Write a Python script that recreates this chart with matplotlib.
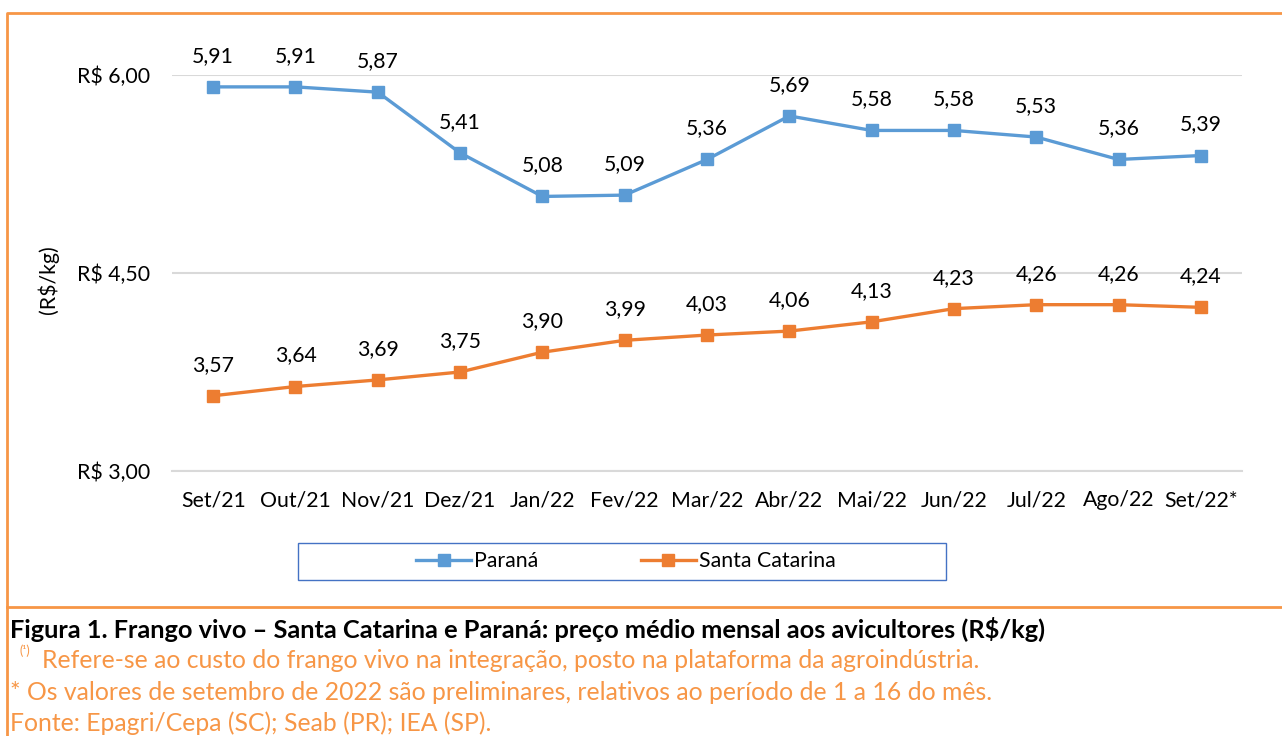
import matplotlib.pyplot as plt
from matplotlib.lines import Line2D
from matplotlib.patches import Rectangle

plt.rcParams['font.family'] = ['Lato', 'DejaVu Sans']

meses = ['Set/21', 'Out/21', 'Nov/21', 'Dez/21', 'Jan/22', 'Fev/22', 'Mar/22',
         'Abr/22', 'Mai/22', 'Jun/22', 'Jul/22', 'Ago/22', 'Set/22*']
parana = [5.91, 5.91, 5.87, 5.41, 5.08, 5.09, 5.36, 5.69, 5.58, 5.58, 5.53, 5.36, 5.39]
santa_catarina = [3.57, 3.64, 3.69, 3.75, 3.90, 3.99, 4.03, 4.06, 4.13, 4.23, 4.26, 4.26, 4.24]
yticks = [3.0, 4.5, 6.0]

AZUL = '#5B9BD5'
LARANJA = '#ED7D31'
BORDA = '#F79646'
FS = 15.3
FS_CAP = 17.8

W, H = 1282, 736
fig = plt.figure(figsize=(W / 100, H / 100), dpi=100)
ax = fig.add_axes([172 / W, 1 - 471 / H, (1242 - 172) / W, (471 - 75) / H])

x = list(range(len(meses)))
ax.plot(x, parana, color=AZUL, lw=2.4, marker='s', ms=8, label='Paraná', clip_on=False)
ax.plot(x, santa_catarina, color=LARANJA, lw=2.4, marker='s', ms=8, label='Santa Catarina',
        clip_on=False)

for serie in (parana, santa_catarina):
    for xi, v in zip(x, serie):
        ax.annotate(f'{v:.2f}'.replace('.', ','), (xi, v), xytext=(0, 31),
                    textcoords='offset pixels', ha='center', va='center', fontsize=FS,
                    color='black', annotation_clip=False)

ax.set_xlim(-0.5, len(meses) - 0.5)
ax.set_ylim(3.0, 6.0)
ax.set_yticks(yticks)
ax.set_yticklabels([f'R$ {v:.2f}'.replace('.', ',') for v in yticks])
ax.set_xticks(x)
ax.set_xticklabels(meses)
ax.tick_params(length=0, labelsize=FS)
ax.tick_params(axis='x', pad=14)
ax.tick_params(axis='y', pad=16)
ax.grid(axis='y', color='#D9D9D9', lw=1.5)
ax.set_axisbelow(True)
for s in ax.spines.values():
    s.set_visible(False)
ax.spines['bottom'].set_visible(True)
ax.spines['bottom'].set_color('#D9D9D9')
ax.spines['bottom'].set_linewidth(1.5)

fig.text(48 / W, 1 - 280 / H, '(R$/kg)', rotation=90, ha='center', va='center', fontsize=FS)

# legenda
fig.add_artist(Rectangle((298 / W, 1 - 580 / H), (946 - 298) / W, 37 / H, fill=False,
                         edgecolor='#4472C4', lw=1, transform=fig.transFigure))
fig.legend(handles=[Line2D([], [], color=AZUL, lw=2.4, marker='s', ms=8),
                    Line2D([], [], color=LARANJA, lw=2.4, marker='s', ms=8)],
           labels=['Paraná', 'Santa Catarina'], ncol=2, loc='center',
           bbox_to_anchor=(626 / W, 1 - 561 / H), fontsize=FS, frameon=False,
           handlelength=2.6, handletextpad=0.15, columnspacing=4.8)

# borda laranja
fig.add_artist(Line2D([7 / W, 7 / W, 1.0], [0, 1 - 13 / H, 1 - 13 / H], color=BORDA, lw=2,
                      transform=fig.transFigure))
fig.add_artist(Line2D([7 / W, 1.0], [1 - 607 / H, 1 - 607 / H], color=BORDA, lw=2,
                      transform=fig.transFigure))

fig.text(10 / W, 1 - 629 / H,
         'Figura 1. Frango vivo – Santa Catarina e Paraná: preço médio mensal aos avicultores (R$/kg)',
         ha='left', va='center', fontsize=18.3, fontweight='bold', color='black')
fig.text(19 / W, 1 - 651 / H, '(¹)', ha='left', va='center', fontsize=9, color=BORDA)
fig.text(42 / W, 1 - 661 / H,
         'Refere-se ao custo do frango vivo na integração, posto na plataforma da agroindústria.',
         ha='left', va='center', fontsize=FS_CAP, color=BORDA)
fig.text(10 / W, 1 - 692 / H,
         '* Os valores de setembro de 2022 são preliminares, relativos ao período de 1 a 16 do mês.',
         ha='left', va='center', fontsize=FS_CAP, color=BORDA)
fig.text(10 / W, 1 - 723 / H, 'Fonte: Epagri/Cepa (SC); Seab (PR); IEA (SP).',
         ha='left', va='center', fontsize=FS_CAP, color=BORDA)

fig.savefig('out.png', dpi=100)
